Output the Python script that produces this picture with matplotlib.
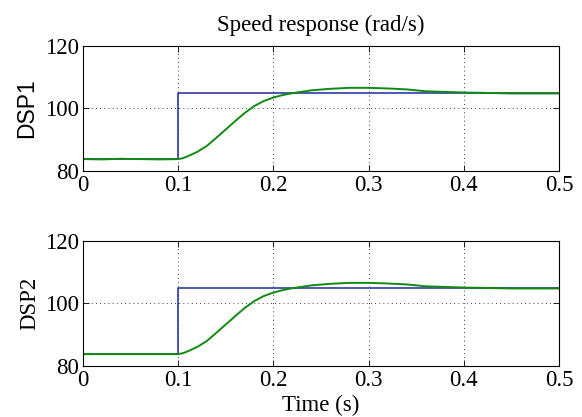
import numpy as np
import matplotlib.pyplot as plt

# time axis and reference step (rad/s)
t_ref = [0.0, 0.1, 0.1, 0.5]
ref_dsp1 = [83.8, 83.8, 104.8, 104.8]
ref_dsp2 = [83.8, 83.8, 104.8, 104.8]

t_meas = [0.0, 0.02, 0.04, 0.06, 0.08, 0.1, 0.105, 0.11, 0.12, 0.13, 0.14,
          0.15, 0.16, 0.17, 0.18, 0.19, 0.2, 0.21, 0.22, 0.24, 0.26, 0.28,
          0.3, 0.32, 0.34, 0.35, 0.36, 0.38, 0.4, 0.42, 0.45, 0.5]
speed_dsp1 = [83.8, 83.7, 83.9, 83.8, 83.7, 83.8, 84.1, 84.7, 86.1, 88.0,
              90.6, 93.3, 96.0, 98.6, 100.8, 102.4, 103.5, 104.3, 104.9,
              105.8, 106.3, 106.6, 106.6, 106.4, 106.1, 105.8, 105.5, 105.3,
              105.1, 105.0, 104.8, 104.8]
speed_dsp2 = [83.8, 83.8, 83.8, 83.8, 83.8, 83.8, 84.1, 84.7, 86.1, 88.0,
              90.6, 93.3, 96.0, 98.6, 100.8, 102.4, 103.5, 104.3, 104.9,
              105.8, 106.3, 106.6, 106.6, 106.4, 106.1, 105.8, 105.5, 105.3,
              105.1, 105.0, 104.8, 104.8]

x_ticks = [0, 0.1, 0.2, 0.3, 0.4, 0.5]
x_labels = ["0", "0.1", "0.2", "0.3", "0.4", "0.5"]
y_ticks = [80, 100, 120]

serif = ["Liberation Serif", "DejaVu Serif"]
sans = ["Liberation Sans", "DejaVu Sans"]
fs = 16.5


def style_axis(ax):
    ax.set_xlim(0, 0.5)
    ax.set_ylim(80, 120)
    ax.set_xticks(x_ticks)
    ax.set_xticklabels(x_labels, family=serif, fontsize=fs)
    ax.set_yticks(y_ticks)
    ax.set_yticklabels([str(v) for v in y_ticks], family=serif, fontsize=fs)
    ax.tick_params(direction="in", top=True, right=True, length=4, width=0.6,
                   pad=3)
    ax.grid(True, linestyle=(0, (1, 4)), color="black", linewidth=0.6)
    for s in ax.spines.values():
        s.set_linewidth(0.8)


fig = plt.figure(figsize=(5.82, 4.17), dpi=100)
ax1 = fig.add_axes([0.1426, 0.590, 0.818, 0.2998])
ax2 = fig.add_axes([0.1426, 0.1223, 0.818, 0.2998])

ax1.plot(t_ref, ref_dsp1, color="#1c2a9c", linewidth=1.1)
ax1.plot(t_meas, speed_dsp1, color="#108a10", linewidth=1.4)
ax2.plot(t_ref, ref_dsp2, color="#1c2a9c", linewidth=1.1)
ax2.plot(t_meas, speed_dsp2, color="#108a10", linewidth=1.4)

style_axis(ax1)
style_axis(ax2)

ax1.set_title("Speed response (rad/s)", family=serif, fontsize=fs, pad=11)
ax1.set_ylabel("DSP1", family=sans, fontsize=fs, labelpad=5)
ax2.set_ylabel("DSP2", family=serif, fontsize=fs, labelpad=3)
ax2.set_xlabel("Time (s)", family=serif, fontsize=fs, labelpad=3)

fig.savefig("out.png", dpi=100)
